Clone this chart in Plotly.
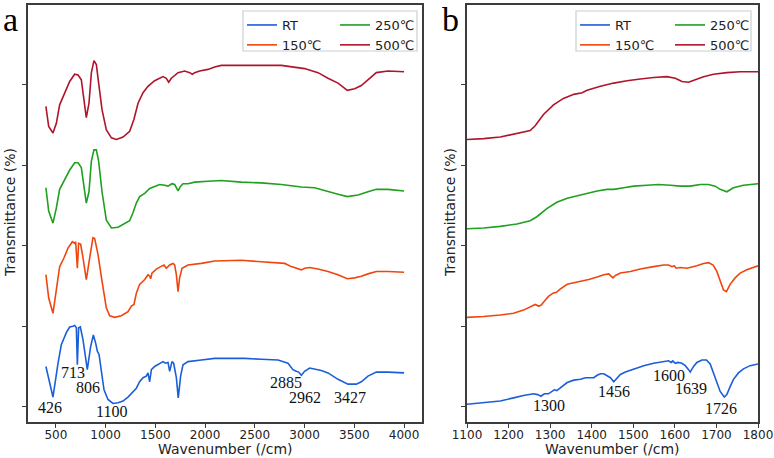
import plotly.graph_objects as go

# FTIR spectra, panel a (full range) - wavenumber (/cm) and stacked transmittance (a.u.)
a_wn_rt = [400, 471, 522, 555, 605, 639, 672, 689, 706, 716, 729, 746, 773, 816, 850, 877, 900, 917, 934, 957,
           984, 1024, 1074, 1125, 1175, 1225, 1275, 1309, 1342, 1376, 1409, 1426, 1443, 1460, 1493, 1543, 1577,
           1600, 1627, 1644, 1667, 1684, 1711, 1730, 1754, 1778, 1828, 1962, 2096, 2230, 2398, 2565, 2733, 2833,
           2883, 2917, 2940, 2967, 3000, 3051, 3101, 3168, 3235, 3336, 3436, 3520, 3570, 3637, 3721, 3838, 4000]
a_rt = [0.50, 0.12, 0.54, 0.77, 0.92, 0.99, 1.00, 1.01, 0.98, 0.52, 0.98, 0.99, 0.83, 0.46, 0.75, 0.89, 0.79, 0.69, 0.65, 0.42,
        0.21, 0.09, 0.04, 0.05, 0.07, 0.12, 0.19, 0.23, 0.31, 0.36, 0.38, 0.42, 0.31, 0.46, 0.50, 0.54, 0.56,
        0.54, 0.55, 0.44, 0.56, 0.54, 0.36, 0.11, 0.38, 0.52, 0.56, 0.58, 0.60, 0.60, 0.60, 0.59, 0.58, 0.54,
        0.46, 0.44, 0.43, 0.39, 0.44, 0.48, 0.47, 0.45, 0.42, 0.34, 0.28, 0.28, 0.31, 0.38, 0.43, 0.43, 0.42]

a_wn_150 = [400, 428, 471, 505, 538, 582, 622, 666, 689, 699, 716, 729, 749, 773, 806, 840, 873, 890, 924, 964,
            1007, 1041, 1091, 1158, 1225, 1259, 1285, 1309, 1342, 1393, 1426, 1443, 1453, 1466, 1510, 1553, 1587,
            1610, 1644, 1677, 1694, 1711, 1728, 1744, 1768, 1828, 1962, 2096, 2364, 2565, 2800, 2867, 2900, 2950,
            2967, 3000, 3051, 3135, 3235, 3336, 3429, 3503, 3570, 3637, 3721, 3838, 4000]
a_150 = [1.64, 1.35, 1.16, 1.43, 1.74, 1.85, 1.97, 2.05, 2.03, 2.05, 1.72, 2.03, 2.02, 1.85, 1.58, 1.85, 2.10, 2.09, 1.89, 1.56,
         1.23, 1.13, 1.11, 1.13, 1.18, 1.25, 1.27, 1.41, 1.52, 1.58, 1.64, 1.62, 1.59, 1.66, 1.71, 1.74, 1.76,
         1.72, 1.76, 1.78, 1.76, 1.64, 1.43, 1.60, 1.72, 1.76, 1.78, 1.81, 1.82, 1.80, 1.78, 1.74, 1.73, 1.71,
         1.70, 1.72, 1.73, 1.71, 1.68, 1.64, 1.59, 1.60, 1.62, 1.65, 1.68, 1.68, 1.67]

a_wn_250 = [400, 428, 471, 505, 538, 589, 639, 689, 723, 756, 783, 806, 833, 857, 883, 907, 930, 964, 1007, 1058,
            1125, 1192, 1242, 1275, 1309, 1342, 1393, 1443, 1493, 1543, 1594, 1627, 1667, 1694, 1711, 1728, 1754,
            1778, 1828, 1895, 2029, 2163, 2364, 2565, 2766, 2967, 3101, 3235, 3336, 3429, 3537, 3637, 3721, 3838, 4000]
a_250 = [2.72, 2.43, 2.28, 2.47, 2.70, 2.82, 2.94, 3.03, 3.03, 2.97, 2.72, 2.53, 2.67, 3.05, 3.19, 3.19, 3.05, 2.67, 2.32, 2.22,
         2.23, 2.27, 2.31, 2.41, 2.53, 2.61, 2.65, 2.71, 2.74, 2.76, 2.75, 2.74, 2.77, 2.76, 2.72, 2.68, 2.74,
         2.77, 2.77, 2.79, 2.80, 2.81, 2.79, 2.78, 2.76, 2.73, 2.72, 2.67, 2.64, 2.61, 2.63, 2.67, 2.70, 2.70, 2.68]

a_wn_500 = [400, 428, 471, 505, 538, 589, 639, 689, 723, 756, 783, 806, 833, 857, 883, 907, 930, 964, 1007, 1058,
            1108, 1175, 1242, 1285, 1326, 1376, 1426, 1493, 1577, 1610, 1634, 1661, 1728, 1795, 1845, 1872, 1895,
            1945, 2029, 2096, 2163, 2364, 2565, 2766, 3000, 3135, 3235, 3336, 3429, 3503, 3570, 3637, 3721, 3838, 4000]
a_500 = [3.73, 3.48, 3.40, 3.52, 3.75, 3.90, 4.04, 4.13, 4.12, 4.06, 3.81, 3.59, 3.77, 4.15, 4.30, 4.25, 4.02, 3.69, 3.44, 3.34,
         3.32, 3.35, 3.42, 3.57, 3.77, 3.90, 3.98, 4.05, 4.10, 4.08, 4.03, 4.08, 4.15, 4.17, 4.15, 4.13, 4.15,
         4.17, 4.19, 4.22, 4.24, 4.24, 4.24, 4.24, 4.20, 4.15, 4.08, 4.02, 3.93, 3.95, 3.99, 4.06, 4.15, 4.17, 4.16]

# panel b (1100-1800 /cm zoom)
b_wn_rt = [1100, 1124, 1148, 1180, 1212, 1236, 1260, 1270, 1278, 1286, 1296, 1304, 1310, 1316, 1324, 1332, 1341,
           1357, 1373, 1385, 1397, 1405, 1413, 1421, 1429, 1437, 1445, 1453, 1461, 1469, 1481, 1501, 1525, 1549,
           1573, 1585, 1591, 1595, 1601, 1607, 1617, 1625, 1633, 1637, 1645, 1653, 1665, 1676, 1685, 1693, 1701,
           1709, 1719, 1725, 1733, 1741, 1753, 1765, 1781, 1800]
b_rt = [0.03, 0.04, 0.05, 0.07, 0.11, 0.14, 0.16, 0.15, 0.13, 0.16, 0.16, 0.19, 0.21, 0.20, 0.23, 0.27, 0.30,
        0.33, 0.34, 0.36, 0.36, 0.36, 0.39, 0.41, 0.41, 0.39, 0.36, 0.31, 0.36, 0.40, 0.43, 0.47, 0.51, 0.54,
        0.56, 0.57, 0.55, 0.57, 0.54, 0.55, 0.54, 0.51, 0.46, 0.43, 0.50, 0.55, 0.58, 0.58, 0.53, 0.42, 0.29,
        0.19, 0.12, 0.15, 0.25, 0.34, 0.42, 0.47, 0.51, 0.53]

b_wn_150 = [1100, 1140, 1180, 1212, 1236, 1256, 1264, 1272, 1278, 1286, 1296, 1307, 1315, 1324, 1341, 1357, 1377,
            1393, 1413, 1429, 1441, 1446, 1451, 1457, 1469, 1493, 1517, 1549, 1573, 1585, 1593, 1599, 1603, 1613,
            1629, 1653, 1669, 1681, 1692, 1701, 1709, 1717, 1724, 1733, 1745, 1757, 1773, 1800]
b_150 = [1.11, 1.12, 1.14, 1.16, 1.20, 1.25, 1.27, 1.25, 1.26, 1.31, 1.37, 1.41, 1.42, 1.46, 1.52, 1.54, 1.56,
         1.58, 1.61, 1.64, 1.65, 1.63, 1.60, 1.63, 1.66, 1.68, 1.71, 1.74, 1.76, 1.76, 1.74, 1.75, 1.72, 1.73,
         1.72, 1.75, 1.78, 1.79, 1.76, 1.68, 1.56, 1.45, 1.43, 1.52, 1.60, 1.66, 1.70, 1.75]

b_wn_250 = [1100, 1140, 1180, 1220, 1252, 1268, 1292, 1316, 1341, 1365, 1389, 1413, 1437, 1453, 1477, 1501, 1533,
            1561, 1589, 1613, 1637, 1661, 1681, 1697, 1709, 1725, 1741, 1765, 1800]
b_250 = [2.21, 2.22, 2.24, 2.27, 2.31, 2.36, 2.46, 2.54, 2.59, 2.62, 2.65, 2.68, 2.70, 2.70, 2.72, 2.74, 2.75,
         2.76, 2.75, 2.74, 2.74, 2.76, 2.76, 2.74, 2.70, 2.67, 2.72, 2.75, 2.77]

b_wn_500 = [1100, 1140, 1180, 1220, 1252, 1264, 1284, 1308, 1332, 1357, 1377, 1389, 1421, 1453, 1485, 1517, 1549,
            1581, 1601, 1617, 1633, 1649, 1669, 1693, 1725, 1757, 1800]
b_500 = [3.32, 3.33, 3.35, 3.39, 3.43, 3.49, 3.63, 3.75, 3.83, 3.88, 3.90, 3.93, 3.98, 4.02, 4.05, 4.07, 4.09,
         4.10, 4.08, 4.04, 4.03, 4.06, 4.10, 4.13, 4.15, 4.16, 4.16]

names = ["RT", "150℃", "250℃", "500℃"]
colors = ["#1a5fd8", "#f0460e", "#1fa01f", "#b0142c"]

# peak labels
a_peaks = ["426", "713", "806", "1100", "2885", "2962", "3427"]
a_peak_x = [441, 672, 823, 1064, 2813, 3004, 3456]
a_peak_y = [-0.01, 0.42, 0.24, -0.06, 0.30, 0.11, 0.11]
b_peaks = ["1300", "1456", "1600", "1639", "1726"]
b_peak_x = [1297, 1454, 1587, 1639, 1710]
b_peak_y = [0.01, 0.19, 0.39, 0.22, -0.02]

W, H = 774, 458
fig = go.Figure()

a_series = [(a_wn_rt, a_rt), (a_wn_150, a_150), (a_wn_250, a_250), (a_wn_500, a_500)]
b_series = [(b_wn_rt, b_rt), (b_wn_150, b_150), (b_wn_250, b_250), (b_wn_500, b_500)]
a_leg = ["legend", "legend", "legend2", "legend2"]
b_leg = ["legend3", "legend3", "legend4", "legend4"]

for i, (x, y) in enumerate(a_series):
    fig.add_trace(go.Scatter(x=x, y=y, mode="lines", name=names[i], line=dict(color=colors[i], width=1.6),
                             xaxis="x", yaxis="y", legend=a_leg[i]))
for i, (x, y) in enumerate(b_series):
    fig.add_trace(go.Scatter(x=x, y=y, mode="lines", name=names[i], line=dict(color=colors[i], width=1.6),
                             xaxis="x2", yaxis="y2", legend=b_leg[i]))

axis_style = dict(showline=True, mirror=True, linecolor="#3c3c3c", linewidth=1.5, ticks="outside",
                  ticklen=4, tickcolor="#3c3c3c", showgrid=False, zeroline=False, automargin=False,
                  tickfont=dict(family="DejaVu Sans", size=12, color="#222"))

fig.update_layout(
    width=W, height=H, margin=dict(l=0, r=0, t=0, b=0, autoexpand=False),
    paper_bgcolor="white", plot_bgcolor="white",
    xaxis=dict(domain=[28 / W, 422 / W], range=[220, 4180], tickvals=[500, 1000, 1500, 2000, 2500, 3000, 3500, 4000],
               anchor="y", ticklabelstandoff=-3, **axis_style),
    yaxis=dict(domain=[1 - 422 / H, 1 - 5 / H], range=[-0.19, 4.99], tickvals=[0, 1, 2, 3, 4], showticklabels=False,
               anchor="x", **axis_style),
    xaxis2=dict(domain=[467 / W, 758 / W], range=[1100, 1800], dtick=100, anchor="y2", ticklabelstandoff=-3,
                **axis_style),
    yaxis2=dict(domain=[1 - 422 / H, 1 - 5 / H], range=[-0.19, 4.99], tickvals=[0, 1, 2, 3, 4], showticklabels=False,
                anchor="x2", **axis_style),
    showlegend=True,
)

leg_common = dict(bgcolor="rgba(0,0,0,0)", borderwidth=0, font=dict(family="DejaVu Sans", size=13, color="#222"),
                  xanchor="left", yanchor="top", y=1 - 10 / H, tracegroupgap=0, itemwidth=30)
fig.update_layout(
    legend=dict(x=242 / W, **leg_common),
    legend2=dict(x=335 / W, **leg_common),
    legend3=dict(x=575 / W, **leg_common),
    legend4=dict(x=670 / W, **leg_common),
)

# legend frames
for x0, x1 in [(243, 417), (576, 751)]:
    fig.add_shape(type="rect", xref="paper", yref="paper", x0=x0 / W, x1=x1 / W, y0=1 - 51 / H, y1=1 - 11 / H,
                  line=dict(color="#c8d0d0", width=1.2), fillcolor="rgba(255,255,255,0.8)", layer="below")

ann_font = dict(family="Liberation Serif", size=16, color="#111")
for t, x, y in zip(a_peaks, a_peak_x, a_peak_y):
    fig.add_annotation(text=t, x=x, y=y, xref="x", yref="y", showarrow=False, font=ann_font)
for t, x, y in zip(b_peaks, b_peak_x, b_peak_y):
    fig.add_annotation(text=t, x=x, y=y, xref="x2", yref="y2", showarrow=False, font=ann_font)

# axis titles and panel letters
for xp in [225, 612]:
    fig.add_annotation(text="Wavenumber (/cm)", x=xp / W, y=1 - 449 / H, xref="paper", yref="paper",
                       xanchor="center", yanchor="middle", showarrow=False,
                       font=dict(family="DejaVu Sans", size=14, color="#222"))
for xp in [10, 450]:
    fig.add_annotation(text="Transmittance (%)", x=xp / W, y=1 - 213 / H, xref="paper", yref="paper",
                       xanchor="center", yanchor="middle", showarrow=False, textangle=-90,
                       font=dict(family="DejaVu Sans", size=14, color="#222"))
for t, xp in [("a", 10), ("b", 451)]:
    fig.add_annotation(text=t, x=xp / W, y=1.0, xref="paper", yref="paper", showarrow=False,
                       xanchor="center", yanchor="top", borderpad=0,
                       font=dict(family="Liberation Serif", size=34, color="#000"))

fig.write_html("out.html", config={"displayModeBar": False},
               post_script="document.body.style.margin='0';document.body.style.overflow='hidden';")
